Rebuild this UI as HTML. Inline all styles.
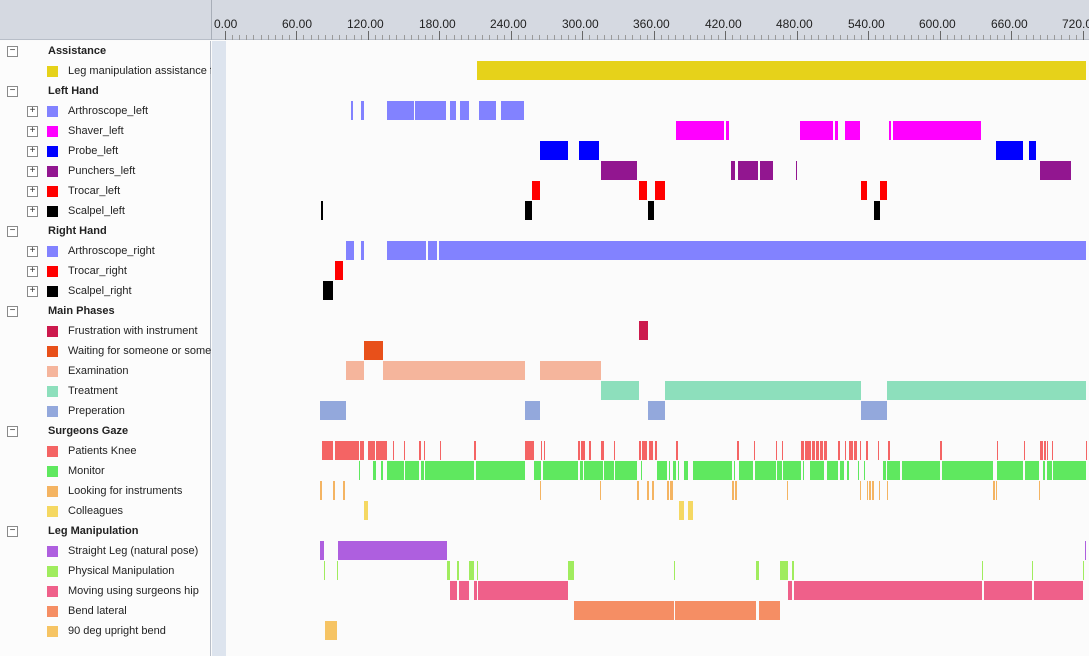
<!DOCTYPE html>
<html><head><meta charset="utf-8"><style>
*{margin:0;padding:0;box-sizing:border-box}
body{width:1089px;height:656px;overflow:hidden;background:#fbfbfb;font-family:"Liberation Sans",Arial,sans-serif;font-size:11px;color:#222;position:relative}
#hdr{position:absolute;left:0;top:0;width:1089px;height:40px;background:#d5d9e1;border-bottom:1px solid #b8bec8}
#hdrline{position:absolute;left:211px;top:0;width:1px;height:40px;background:#a8aeb8}
#left{position:absolute;left:0;top:41px;width:211px;height:615px;background:#fcfcfc;border-right:1px solid #b8bec8}
#strip{position:absolute;left:212px;top:41px;width:14px;height:615px;background:#dde4ee}
.lab{position:absolute;height:20px;line-height:20px;white-space:nowrap;overflow:hidden}
.g{left:48px;font-weight:bold}
.it{left:68px;width:143px}
.sq{position:absolute;left:47px;width:11px;height:11px}
.bx{position:absolute;width:11px;height:11px;border:1px solid #8a8a8a;background:#fff;font-size:10px;line-height:8px;text-align:center;color:#333}
.tl{position:absolute;top:17px;font-size:12px;color:#222}
.tk{position:absolute;width:1px;background:#555}
i{position:absolute;height:19px;display:block}
.r1{top:61px;background:#e6d21a}.r3{top:101px;background:#8282ff}.r4{top:121px;background:#ff00ff}
.r5{top:141px;background:#0000ff}.r6{top:161px;background:#921690}.r7{top:181px;background:#ff0000}
.r8{top:201px;background:#000}.r10{top:241px;background:#8282ff}.r11{top:261px;background:#ff0000}
.r12{top:281px;background:#000}.r14{top:321px;background:#cc1a4d}.r15{top:341px;background:#e8501a}
.r16{top:361px;background:#f5b59c}.r17{top:381px;background:#8ddfbc}.r18{top:401px;background:#93a8dc}
.r20{top:441px;background:#f46464}.r21{top:461px;background:#5fe85f}.r22{top:481px;background:#f4b462}
.r23{top:501px;background:#f5d862}.r25{top:541px;background:#ae5fdf}.r26{top:561px;background:#a0ec5e}
.r27{top:581px;background:#ef608a}.r28{top:601px;background:#f58e64}.r29{top:621px;background:#f6c464}
</style></head><body>
<div id="hdr"></div><div id="hdrline"></div>
<div class="tl" style="left:214px">0.00</div><div class="tl" style="left:282px">60.00</div><div class="tl" style="left:347px">120.00</div><div class="tl" style="left:419px">180.00</div><div class="tl" style="left:490px">240.00</div><div class="tl" style="left:562px">300.00</div><div class="tl" style="left:633px">360.00</div><div class="tl" style="left:705px">420.00</div><div class="tl" style="left:776px">480.00</div><div class="tl" style="left:848px">540.00</div><div class="tl" style="left:919px">600.00</div><div class="tl" style="left:991px">660.00</div><div class="tl" style="left:1062px">720.00</div>
<svg style="position:absolute;left:0;top:0" width="1089" height="41">
<g stroke="#666" stroke-width="1">
<path d="M225.5 31V40M296.5 31V40M368.5 31V40M439.5 31V40M511.5 31V40M582.5 31V40M654.5 31V40M725.5 31V40M797.5 31V40M868.5 31V40M940.5 31V40M1011.5 31V40M1083.5 31V40"/>
<path stroke="#999" d="M232.5 35V40M239.5 35V40M246.5 35V40M253.5 35V40M261.5 35V40M268.5 35V40M275.5 35V40M282.5 35V40M289.5 35V40M303.5 35V40M311.5 35V40M318.5 35V40M325.5 35V40M332.5 35V40M339.5 35V40M346.5 35V40M354.5 35V40M361.5 35V40M375.5 35V40M382.5 35V40M389.5 35V40M396.5 35V40M404.5 35V40M411.5 35V40M418.5 35V40M425.5 35V40M432.5 35V40M446.5 35V40M454.5 35V40M461.5 35V40M468.5 35V40M475.5 35V40M482.5 35V40M489.5 35V40M497.5 35V40M504.5 35V40M518.5 35V40M525.5 35V40M532.5 35V40M539.5 35V40M547.5 35V40M554.5 35V40M561.5 35V40M568.5 35V40M575.5 35V40M589.5 35V40M597.5 35V40M604.5 35V40M611.5 35V40M618.5 35V40M625.5 35V40M632.5 35V40M640.5 35V40M647.5 35V40M661.5 35V40M668.5 35V40M675.5 35V40M683.5 35V40M690.5 35V40M697.5 35V40M704.5 35V40M711.5 35V40M718.5 35V40M732.5 35V40M740.5 35V40M747.5 35V40M754.5 35V40M761.5 35V40M768.5 35V40M775.5 35V40M783.5 35V40M790.5 35V40M804.5 35V40M811.5 35V40M818.5 35V40M826.5 35V40M833.5 35V40M840.5 35V40M847.5 35V40M854.5 35V40M861.5 35V40M875.5 35V40M883.5 35V40M890.5 35V40M897.5 35V40M904.5 35V40M911.5 35V40M918.5 35V40M926.5 35V40M933.5 35V40M947.5 35V40M954.5 35V40M961.5 35V40M969.5 35V40M976.5 35V40M983.5 35V40M990.5 35V40M997.5 35V40M1004.5 35V40M1018.5 35V40M1026.5 35V40M1033.5 35V40M1040.5 35V40M1047.5 35V40M1054.5 35V40M1061.5 35V40M1069.5 35V40M1076.5 35V40"/>
</g></svg>
<div id="left">
<div class="bx" style="left:7px;top:5px">−</div><div class="lab g" style="top:0">Assistance</div>
<div class="sq" style="top:25px;background:#e6d21a"></div><div class="lab it" style="top:20px">Leg manipulation assistance from</div>
<div class="bx" style="left:7px;top:45px">−</div><div class="lab g" style="top:40px">Left Hand</div>
<div class="bx" style="left:27px;top:65px">+</div><div class="sq" style="top:65px;background:#8282ff"></div><div class="lab it" style="top:60px">Arthroscope_left</div>
<div class="bx" style="left:27px;top:85px">+</div><div class="sq" style="top:85px;background:#ff00ff"></div><div class="lab it" style="top:80px">Shaver_left</div>
<div class="bx" style="left:27px;top:105px">+</div><div class="sq" style="top:105px;background:#0000ff"></div><div class="lab it" style="top:100px">Probe_left</div>
<div class="bx" style="left:27px;top:125px">+</div><div class="sq" style="top:125px;background:#921690"></div><div class="lab it" style="top:120px">Punchers_left</div>
<div class="bx" style="left:27px;top:145px">+</div><div class="sq" style="top:145px;background:#ff0000"></div><div class="lab it" style="top:140px">Trocar_left</div>
<div class="bx" style="left:27px;top:165px">+</div><div class="sq" style="top:165px;background:#000"></div><div class="lab it" style="top:160px">Scalpel_left</div>
<div class="bx" style="left:7px;top:185px">−</div><div class="lab g" style="top:180px">Right Hand</div>
<div class="bx" style="left:27px;top:205px">+</div><div class="sq" style="top:205px;background:#8282ff"></div><div class="lab it" style="top:200px">Arthroscope_right</div>
<div class="bx" style="left:27px;top:225px">+</div><div class="sq" style="top:225px;background:#ff0000"></div><div class="lab it" style="top:220px">Trocar_right</div>
<div class="bx" style="left:27px;top:245px">+</div><div class="sq" style="top:245px;background:#000"></div><div class="lab it" style="top:240px">Scalpel_right</div>
<div class="bx" style="left:7px;top:265px">−</div><div class="lab g" style="top:260px">Main Phases</div>
<div class="sq" style="top:285px;background:#cc1a4d"></div><div class="lab it" style="top:280px">Frustration with instrument</div>
<div class="sq" style="top:305px;background:#e8501a"></div><div class="lab it" style="top:300px">Waiting for someone or something</div>
<div class="sq" style="top:325px;background:#f5b59c"></div><div class="lab it" style="top:320px">Examination</div>
<div class="sq" style="top:345px;background:#8ddfbc"></div><div class="lab it" style="top:340px">Treatment</div>
<div class="sq" style="top:365px;background:#93a8dc"></div><div class="lab it" style="top:360px">Preperation</div>
<div class="bx" style="left:7px;top:385px">−</div><div class="lab g" style="top:380px">Surgeons Gaze</div>
<div class="sq" style="top:405px;background:#f46464"></div><div class="lab it" style="top:400px">Patients Knee</div>
<div class="sq" style="top:425px;background:#5fe85f"></div><div class="lab it" style="top:420px">Monitor</div>
<div class="sq" style="top:445px;background:#f4b462"></div><div class="lab it" style="top:440px">Looking for instruments</div>
<div class="sq" style="top:465px;background:#f5d862"></div><div class="lab it" style="top:460px">Colleagues</div>
<div class="bx" style="left:7px;top:485px">−</div><div class="lab g" style="top:480px">Leg Manipulation</div>
<div class="sq" style="top:505px;background:#ae5fdf"></div><div class="lab it" style="top:500px">Straight Leg (natural pose)</div>
<div class="sq" style="top:525px;background:#a0ec5e"></div><div class="lab it" style="top:520px">Physical Manipulation</div>
<div class="sq" style="top:545px;background:#ef608a"></div><div class="lab it" style="top:540px">Moving using surgeons hip</div>
<div class="sq" style="top:565px;background:#f58e64"></div><div class="lab it" style="top:560px">Bend lateral</div>
<div class="sq" style="top:585px;background:#f6c464"></div><div class="lab it" style="top:580px">90 deg upright bend</div>
</div>
<div id="strip"></div>

<i class="r1" style="left:477px;width:609px"></i>

<i class="r3" style="left:351px;width:2px"></i><i class="r3" style="left:361px;width:3px"></i><i class="r3" style="left:387px;width:27px"></i><i class="r3" style="left:415px;width:11px"></i><i class="r3" style="left:426px;width:20px"></i><i class="r3" style="left:450px;width:6px"></i><i class="r3" style="left:460px;width:9px"></i><i class="r3" style="left:479px;width:17px"></i><i class="r3" style="left:501px;width:23px"></i>

<i class="r4" style="left:676px;width:48px"></i><i class="r4" style="left:726px;width:3px"></i><i class="r4" style="left:800px;width:33px"></i><i class="r4" style="left:835px;width:3px"></i><i class="r4" style="left:845px;width:15px"></i><i class="r4" style="left:889px;width:2px"></i><i class="r4" style="left:893px;width:88px"></i>

<i class="r5" style="left:540px;width:28px"></i><i class="r5" style="left:579px;width:20px"></i><i class="r5" style="left:996px;width:27px"></i><i class="r5" style="left:1029px;width:7px"></i>

<i class="r6" style="left:601px;width:36px"></i><i class="r6" style="left:731px;width:4px"></i><i class="r6" style="left:738px;width:20px"></i><i class="r6" style="left:760px;width:13px"></i><i class="r6" style="left:796px;width:1px"></i><i class="r6" style="left:1040px;width:31px"></i>

<i class="r7" style="left:532px;width:8px"></i><i class="r7" style="left:639px;width:8px"></i><i class="r7" style="left:655px;width:10px"></i><i class="r7" style="left:861px;width:6px"></i><i class="r7" style="left:880px;width:7px"></i>

<i class="r8" style="left:321px;width:2px"></i><i class="r8" style="left:525px;width:7px"></i><i class="r8" style="left:648px;width:6px"></i><i class="r8" style="left:874px;width:6px"></i>

<i class="r10" style="left:346px;width:8px"></i><i class="r10" style="left:361px;width:3px"></i><i class="r10" style="left:387px;width:39px"></i><i class="r10" style="left:428px;width:9px"></i><i class="r10" style="left:439px;width:647px"></i>
<i class="r11" style="left:335px;width:8px"></i>
<i class="r12" style="left:323px;width:10px"></i>

<i class="r14" style="left:639px;width:9px"></i>
<i class="r15" style="left:364px;width:19px"></i>
<i class="r16" style="left:346px;width:18px"></i><i class="r16" style="left:383px;width:142px"></i><i class="r16" style="left:540px;width:61px"></i>
<i class="r17" style="left:601px;width:38px"></i><i class="r17" style="left:665px;width:196px"></i><i class="r17" style="left:887px;width:199px"></i>
<i class="r18" style="left:320px;width:26px"></i><i class="r18" style="left:525px;width:15px"></i><i class="r18" style="left:648px;width:17px"></i><i class="r18" style="left:861px;width:26px"></i>

<i class="r20" style="left:322px;width:11px"></i><i class="r20" style="left:335px;width:10px"></i><i class="r20" style="left:345px;width:14px"></i><i class="r20" style="left:360px;width:4px"></i><i class="r20" style="left:368px;width:7px"></i><i class="r20" style="left:376px;width:7px"></i><i class="r20" style="left:383px;width:4px"></i><i class="r20" style="left:393px;width:1px"></i><i class="r20" style="left:404px;width:1px"></i><i class="r20" style="left:419px;width:2px"></i><i class="r20" style="left:424px;width:1px"></i><i class="r20" style="left:440px;width:1px"></i><i class="r20" style="left:474px;width:2px"></i><i class="r20" style="left:525px;width:9px"></i><i class="r20" style="left:541px;width:1px"></i><i class="r20" style="left:544px;width:1px"></i><i class="r20" style="left:578px;width:2px"></i><i class="r20" style="left:581px;width:4px"></i><i class="r20" style="left:589px;width:2px"></i><i class="r20" style="left:601px;width:3px"></i><i class="r20" style="left:614px;width:1px"></i><i class="r20" style="left:639px;width:2px"></i><i class="r20" style="left:642px;width:5px"></i><i class="r20" style="left:649px;width:4px"></i><i class="r20" style="left:655px;width:2px"></i><i class="r20" style="left:676px;width:2px"></i><i class="r20" style="left:737px;width:2px"></i><i class="r20" style="left:754px;width:1px"></i><i class="r20" style="left:776px;width:1px"></i><i class="r20" style="left:782px;width:1px"></i><i class="r20" style="left:801px;width:3px"></i><i class="r20" style="left:805px;width:6px"></i><i class="r20" style="left:812px;width:3px"></i><i class="r20" style="left:816px;width:3px"></i><i class="r20" style="left:820px;width:3px"></i><i class="r20" style="left:824px;width:3px"></i><i class="r20" style="left:838px;width:2px"></i><i class="r20" style="left:845px;width:1px"></i><i class="r20" style="left:849px;width:4px"></i><i class="r20" style="left:854px;width:3px"></i><i class="r20" style="left:860px;width:1px"></i><i class="r20" style="left:866px;width:2px"></i><i class="r20" style="left:878px;width:1px"></i><i class="r20" style="left:888px;width:2px"></i><i class="r20" style="left:940px;width:2px"></i><i class="r20" style="left:997px;width:1px"></i><i class="r20" style="left:1024px;width:1px"></i><i class="r20" style="left:1040px;width:3px"></i><i class="r20" style="left:1044px;width:2px"></i><i class="r20" style="left:1047px;width:1px"></i><i class="r20" style="left:1052px;width:1px"></i><i class="r20" style="left:1086px;width:1px"></i>

<i class="r21" style="left:359px;width:1px"></i><i class="r21" style="left:373px;width:3px"></i><i class="r21" style="left:381px;width:2px"></i><i class="r21" style="left:387px;width:7px"></i><i class="r21" style="left:394px;width:10px"></i><i class="r21" style="left:405px;width:14px"></i><i class="r21" style="left:421px;width:3px"></i><i class="r21" style="left:425px;width:49px"></i><i class="r21" style="left:476px;width:49px"></i><i class="r21" style="left:534px;width:7px"></i><i class="r21" style="left:543px;width:35px"></i><i class="r21" style="left:580px;width:3px"></i><i class="r21" style="left:584px;width:19px"></i><i class="r21" style="left:604px;width:10px"></i><i class="r21" style="left:615px;width:22px"></i><i class="r21" style="left:641px;width:1px"></i><i class="r21" style="left:657px;width:10px"></i><i class="r21" style="left:669px;width:1px"></i><i class="r21" style="left:673px;width:3px"></i><i class="r21" style="left:678px;width:1px"></i><i class="r21" style="left:684px;width:4px"></i><i class="r21" style="left:693px;width:39px"></i><i class="r21" style="left:734px;width:1px"></i><i class="r21" style="left:739px;width:14px"></i><i class="r21" style="left:755px;width:21px"></i><i class="r21" style="left:777px;width:5px"></i><i class="r21" style="left:783px;width:18px"></i><i class="r21" style="left:803px;width:1px"></i><i class="r21" style="left:810px;width:14px"></i><i class="r21" style="left:827px;width:11px"></i><i class="r21" style="left:840px;width:4px"></i><i class="r21" style="left:847px;width:2px"></i><i class="r21" style="left:858px;width:1px"></i><i class="r21" style="left:864px;width:1px"></i><i class="r21" style="left:883px;width:3px"></i><i class="r21" style="left:887px;width:13px"></i><i class="r21" style="left:902px;width:38px"></i><i class="r21" style="left:942px;width:51px"></i><i class="r21" style="left:997px;width:26px"></i><i class="r21" style="left:1025px;width:14px"></i><i class="r21" style="left:1043px;width:2px"></i><i class="r21" style="left:1047px;width:5px"></i><i class="r21" style="left:1053px;width:33px"></i>

<i class="r22" style="left:320px;width:2px"></i><i class="r22" style="left:333px;width:2px"></i><i class="r22" style="left:343px;width:2px"></i><i class="r22" style="left:540px;width:1px"></i><i class="r22" style="left:600px;width:1px"></i><i class="r22" style="left:637px;width:2px"></i><i class="r22" style="left:647px;width:2px"></i><i class="r22" style="left:652px;width:2px"></i><i class="r22" style="left:667px;width:2px"></i><i class="r22" style="left:670px;width:3px"></i><i class="r22" style="left:732px;width:2px"></i><i class="r22" style="left:735px;width:2px"></i><i class="r22" style="left:787px;width:1px"></i><i class="r22" style="left:860px;width:1px"></i><i class="r22" style="left:867px;width:1px"></i><i class="r22" style="left:869px;width:2px"></i><i class="r22" style="left:872px;width:2px"></i><i class="r22" style="left:879px;width:1px"></i><i class="r22" style="left:887px;width:1px"></i><i class="r22" style="left:993px;width:2px"></i><i class="r22" style="left:996px;width:1px"></i><i class="r22" style="left:1039px;width:1px"></i>

<i class="r23" style="left:364px;width:4px"></i><i class="r23" style="left:679px;width:5px"></i><i class="r23" style="left:688px;width:5px"></i>

<i class="r25" style="left:320px;width:4px"></i><i class="r25" style="left:338px;width:109px"></i><i class="r25" style="left:1085px;width:1px"></i>
<i class="r26" style="left:324px;width:1px"></i><i class="r26" style="left:337px;width:1px"></i><i class="r26" style="left:447px;width:3px"></i><i class="r26" style="left:457px;width:2px"></i><i class="r26" style="left:469px;width:5px"></i><i class="r26" style="left:477px;width:1px"></i><i class="r26" style="left:568px;width:6px"></i><i class="r26" style="left:674px;width:1px"></i><i class="r26" style="left:756px;width:3px"></i><i class="r26" style="left:780px;width:8px"></i><i class="r26" style="left:792px;width:2px"></i><i class="r26" style="left:982px;width:1px"></i><i class="r26" style="left:1032px;width:1px"></i><i class="r26" style="left:1083px;width:1px"></i>
<i class="r27" style="left:450px;width:7px"></i><i class="r27" style="left:459px;width:10px"></i><i class="r27" style="left:474px;width:3px"></i><i class="r27" style="left:478px;width:90px"></i><i class="r27" style="left:788px;width:4px"></i><i class="r27" style="left:794px;width:188px"></i><i class="r27" style="left:984px;width:48px"></i><i class="r27" style="left:1034px;width:49px"></i>
<i class="r28" style="left:574px;width:100px"></i><i class="r28" style="left:675px;width:81px"></i><i class="r28" style="left:759px;width:21px"></i>
<i class="r29" style="left:325px;width:12px"></i>
</body></html>
